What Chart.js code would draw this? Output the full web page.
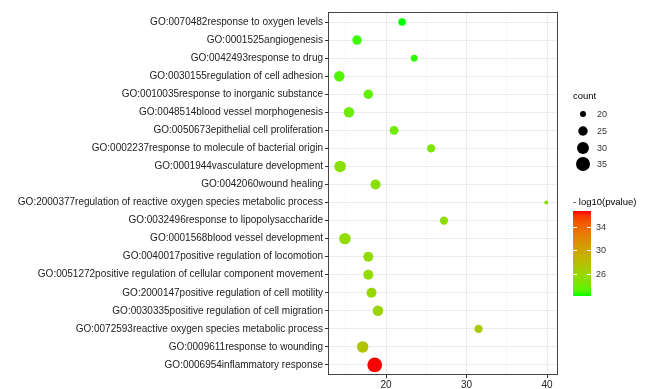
<!DOCTYPE html>
<html>
<head>
<meta charset="utf-8">
<script src="https://cdn.jsdelivr.net/npm/chart.js@4/dist/chart.umd.min.js"></script>
<style>
  html, body { margin: 0; padding: 0; background: #fff; }
  #wrap { width: 654px; height: 389px; position: relative; }
</style>
</head>
<body>
<div id="wrap"><canvas id="dotplot"></canvas></div>
<script>
// GO terms, top to bottom
const terms = [
  'GO:0070482response to oxygen levels',
  'GO:0001525angiogenesis',
  'GO:0042493response to drug',
  'GO:0030155regulation of cell adhesion',
  'GO:0010035response to inorganic substance',
  'GO:0048514blood vessel morphogenesis',
  'GO:0050673epithelial cell proliferation',
  'GO:0002237response to molecule of bacterial origin',
  'GO:0001944vasculature development',
  'GO:0042060wound healing',
  'GO:2000377regulation of reactive oxygen species metabolic process',
  'GO:0032496response to lipopolysaccharide',
  'GO:0001568blood vessel development',
  'GO:0040017positive regulation of locomotion',
  'GO:0051272positive regulation of cellular component movement',
  'GO:2000147positive regulation of cell motility',
  'GO:0030335positive regulation of cell migration',
  'GO:0072593reactive oxygen species metabolic process',
  'GO:0009611response to wounding',
  'GO:0006954inflammatory response'
];
const xValues = [22.0, 16.4, 23.5, 14.2, 17.8, 15.4, 21.0, 25.6, 14.3, 18.7,
                 39.9, 27.2, 14.9, 17.8, 17.8, 18.2, 19.0, 31.5, 17.1, 18.6];
const counts  = [22, 25, 21, 27, 25, 27, 24, 23, 29, 26,
                 18, 23, 29, 26, 26, 26, 27, 23, 29, 37];
const logP    = [22.2, 22.7, 22.5, 23.1, 23.5, 23.9, 24.0, 24.5, 25.0, 25.0,
                 25.2, 25.2, 25.4, 25.5, 25.5, 25.7, 26.0, 27.0, 27.5, 36.7];

const xTicks = [15, 20, 25, 30, 35, 40];
const sizeBreaks = [20, 25, 30, 35];
const colourBreaks = [26, 30, 34];

const FONT = "'Liberation Sans', Arial, Helvetica, sans-serif";
const pMin = Math.min(...logP), pMax = Math.max(...logP);

// point radius from count (area grows linearly, like ggplot's size scale)
function radius(c) { return Math.sqrt(Math.max(1, 9 + 2.67 * (c - 20))); }

// green -> red interpolated in Lab space
function toLin(c) { c /= 255; return c <= 0.04045 ? c / 12.92 : Math.pow((c + 0.055) / 1.055, 2.4); }
function toSrgb(c) {
  c = c <= 0.0031308 ? 12.92 * c : 1.055 * Math.pow(c, 1 / 2.4) - 0.055;
  return Math.round(Math.max(0, Math.min(1, c)) * 255);
}
function rgbToLab(rgb) {
  const r = toLin(rgb[0]), g = toLin(rgb[1]), b = toLin(rgb[2]);
  const X = (0.4124 * r + 0.3576 * g + 0.1805 * b) / 0.95047;
  const Y = 0.2126 * r + 0.7152 * g + 0.0722 * b;
  const Z = (0.0193 * r + 0.1192 * g + 0.9505 * b) / 1.08883;
  const f = t => t > 0.008856 ? Math.cbrt(t) : 7.787 * t + 16 / 116;
  const fx = f(X), fy = f(Y), fz = f(Z);
  return [116 * fy - 16, 500 * (fx - fy), 200 * (fy - fz)];
}
function labToRgb(lab) {
  const fy = (lab[0] + 16) / 116, fx = fy + lab[1] / 500, fz = fy - lab[2] / 200;
  const inv = f => f * f * f > 0.008856 ? f * f * f : (f - 16 / 116) / 7.787;
  const X = inv(fx) * 0.95047, Y = inv(fy), Z = inv(fz) * 1.08883;
  return [
    toSrgb(3.2406 * X - 1.5372 * Y - 0.4986 * Z),
    toSrgb(-0.9689 * X + 1.8758 * Y + 0.0415 * Z),
    toSrgb(0.0557 * X - 0.2040 * Y + 1.0570 * Z)
  ];
}
const labLow = rgbToLab([0, 255, 0]), labHigh = rgbToLab([255, 0, 0]);
function colourFor(v) {
  const t = Math.max(0, Math.min(1, (v - pMin) / (pMax - pMin)));
  const c = labToRgb([0, 1, 2].map(i => labLow[i] + (labHigh[i] - labLow[i]) * t));
  return 'rgb(' + c.join(',') + ')';
}

// panel border + the two legends on the right
const sideLegend = {
  id: 'sideLegend',
  afterDraw(chart) {
    const ctx = chart.ctx, a = chart.chartArea;
    ctx.save();
    ctx.strokeStyle = '#444';
    ctx.lineWidth = 1;
    ctx.strokeRect(Math.round(a.left) - 0.5, Math.round(a.top) - 0.5,
                   Math.round(a.right - a.left) + 1, Math.round(a.bottom - a.top) + 1);

    // size legend
    ctx.fillStyle = '#000';
    ctx.textBaseline = 'middle';
    ctx.textAlign = 'left';
    ctx.font = '9.5px ' + FONT;
    ctx.fillText('count', 573, 96);
    const ys = [114, 131, 148, 164];
    ctx.font = '9px ' + FONT;
    sizeBreaks.forEach((c, i) => {
      ctx.fillStyle = '#000';
      ctx.beginPath();
      ctx.arc(583, ys[i], radius(c), 0, Math.PI * 2);
      ctx.fill();
      ctx.fillStyle = '#333';
      ctx.fillText(String(c), 597, ys[i] + 0.5);
    });

    // colour bar
    ctx.fillStyle = '#000';
    ctx.font = '9.5px ' + FONT;
    ctx.fillText('- log10(pvalue)', 573, 202);
    const bx = 573, by = 211, bw = 18, bh = 85;
    const grad = ctx.createLinearGradient(0, by + bh, 0, by);
    for (let i = 0; i <= 20; i++) {
      grad.addColorStop(i / 20, colourFor(pMin + (pMax - pMin) * i / 20));
    }
    ctx.fillStyle = grad;
    ctx.fillRect(bx, by, bw, bh);
    ctx.font = '9px ' + FONT;
    colourBreaks.forEach(v => {
      const y = Math.round(by + bh - (v - pMin) / (pMax - pMin) * bh) + 0.5;
      ctx.strokeStyle = '#fff';
      ctx.beginPath();
      ctx.moveTo(bx, y); ctx.lineTo(bx + 4, y);
      ctx.moveTo(bx + bw - 4, y); ctx.lineTo(bx + bw, y);
      ctx.stroke();
      ctx.fillStyle = '#333';
      ctx.fillText(String(v), 596, y);
    });
    ctx.restore();
  }
};

const points = terms.map((t, i) => ({ x: xValues[i], y: t, r: radius(counts[i]) }));

new Chart(document.getElementById('dotplot'), {
  type: 'bubble',
  data: {
    datasets: [{
      data: points,
      backgroundColor: logP.map(colourFor),
      borderWidth: 0,
      hoverBorderWidth: 0
    }]
  },
  options: {
    responsive: true,
    maintainAspectRatio: false,
    animation: false,
    events: [],
    layout: { padding: { top: 13, right: 97, bottom: 0, left: 0 } },
    plugins: { legend: { display: false }, tooltip: { enabled: false } },
    scales: {
      x: {
        type: 'linear',
        min: 12.92,
        max: 41.24,
        afterBuildTicks(scale) { scale.ticks = xTicks.map(v => ({ value: v })); },
        afterFit(scale) { scale.height = 15; },
        border: { display: false },
        grid: {
          color: c => (c.tick && c.tick.value % 10 === 0) ? '#ebebeb' : '#f5f5f5',
          lineWidth: c => (c.tick && c.tick.value % 10 === 0) ? 1 : 0.8,
          tickColor: c => (c.tick && c.tick.value % 10 === 0) ? '#333' : 'rgba(0,0,0,0)',
          tickLength: 4
        },
        ticks: {
          autoSkip: false,
          maxRotation: 0,
          padding: 1,
          color: '#222',
          font: { family: FONT, size: 10 },
          callback: v => (v % 10 === 0 ? String(v) : '')
        }
      },
      y: {
        type: 'category',
        labels: terms,
        offset: true,
        afterFit(scale) { scale.width = 329; },
        border: { display: false },
        grid: { color: '#ebebeb', tickColor: '#333', tickLength: 4 },
        ticks: {
          autoSkip: false,
          padding: 2,
          color: '#222',
          font: { family: FONT, size: 10 }
        }
      }
    }
  },
  plugins: [sideLegend]
});
</script>
</body>
</html>
